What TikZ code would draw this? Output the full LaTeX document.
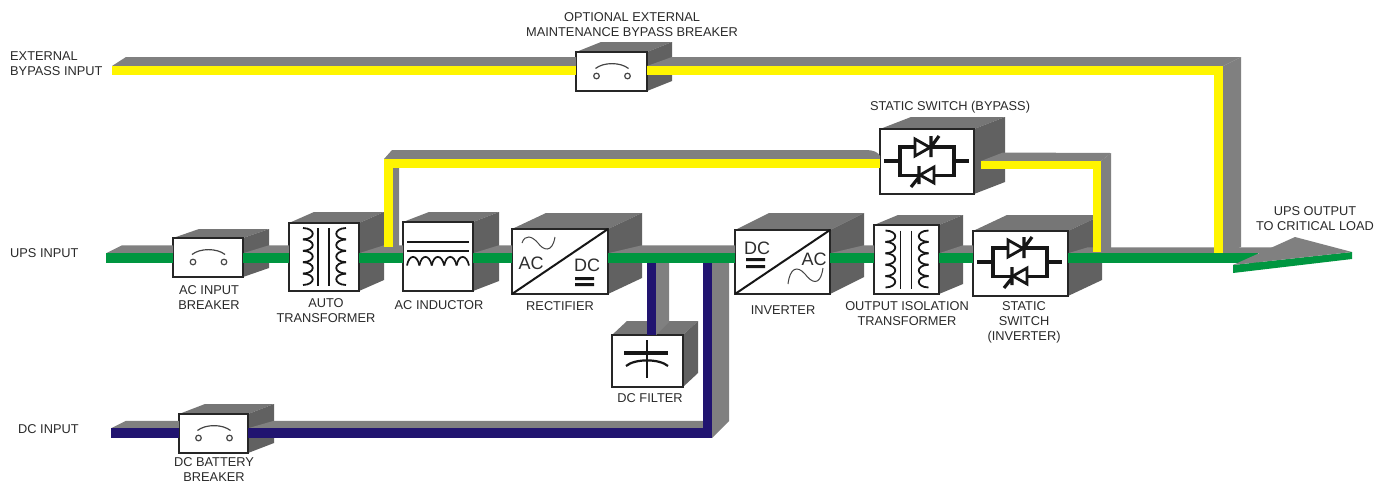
\documentclass[tikz,border=0pt]{standalone}
\usepackage{fontspec}
\setmainfont{Liberation Sans}
\usetikzlibrary{calc}
\definecolor{railgrey}{HTML}{808080}
\definecolor{topgrey}{HTML}{767676}
\definecolor{sidegrey}{HTML}{616161}
\definecolor{busgreen}{HTML}{009640}
\definecolor{busyellow}{HTML}{FFF500}
\definecolor{busnavy}{HTML}{211470}
\definecolor{labeltext}{HTML}{2A2A2A}
\definecolor{symbolink}{HTML}{161616}
\tikzset{
  lbl/.style={font=\fontsize{12.8}{15}\selectfont,align=center,inner sep=0pt,text=labeltext},
  lblleft/.style={lbl,align=left,anchor=west},
  frontface/.style={draw=black!85,line width=1.2pt,fill=white,inner sep=0pt,outer sep=0pt},
  greenwire/.style={draw=busgreen,line width=9.5pt},
  yellowwire/.style={draw=busyellow,line width=9pt,miter limit=10},
  navywire/.style={draw=busnavy,line width=9.5pt,miter limit=10},
  ink/.style={draw=symbolink,line width=1.5pt},
  inkbold/.style={draw=symbolink,line width=3.2pt},
  inkthin/.style={draw=symbolink!80,line width=1pt},
  bigtext/.style={font=\fontsize{18}{18}\selectfont,inner sep=0pt,text=symbolink!90},
}
% name, x1, y1, x2, y2, dx, dy
\newcommand\cube[7]{%
  \fill[topgrey] (#2,#3) -- ++(#6,-#7) -- (#4+#6,#3-#7) -- (#4,#3) -- cycle;
  \fill[sidegrey] (#4,#3) -- (#4+#6,#3-#7) -- (#4+#6,#5-#7) -- (#4,#5) -- cycle;
  \node[frontface,minimum width=#4pt-#2pt,minimum height=#5pt-#3pt] (#1) at ({(#2+#4)/2},{(#3+#5)/2}) {};
}
% from point, to point (both on the top edge of the coloured wire), slant dx, height
\newcommand\railtop[4]{%
  \fill[railgrey] (#1) -- ++(#3,-#4) -- ($(#2)+(0,-#4)$) -- (#2) -- cycle;
}
\newcommand\symbreaker[1]{\begin{scope}[shift={(#1.center)}]
  \draw[inkthin,line width=1.2pt] (-16,-3) .. controls (-8,-9.5) and (9,-9.5) .. (17,-3);
  \draw[inkthin,line width=1.2pt] (-15,4.5) circle (2.8) (16,4.5) circle (2.8);
\end{scope}}
\newcommand\coil[3]{% x start, bulge, first y
  \foreach \k in {0,...,4} {
    \draw[ink,line width=1.8pt] (#1,#3+11.4*\k) .. controls (#1+#2,#3+11.4*\k+0.5) and (#1+#2,#3+11.4*\k+10.9) .. (#1,#3+11.4*\k+11.4);
  }}
\newcommand\symtransformer[1]{\begin{scope}[shift={(#1.center)}]
  \coil{-21}{13}{-29}
  \coil{22}{-13}{-29}
  \draw[ink,line width=1.8pt] (-6,-29) -- (-6,29) (5,-29) -- (5,29);
\end{scope}}
\newcommand\syminductor[1]{\begin{scope}[shift={(#1.center)}]
  \draw[ink,line width=1.7pt] (-31,-14.5) -- (31,-14.5) (-31,-5.5) -- (31,-5.5);
  \foreach \k in {0,...,4} {
    \draw[ink,line width=1.7pt] (-31+12.4*\k,9) .. controls (-29+12.4*\k,-2.5) and (-21+12.4*\k,-2.5) .. (-18.6+12.4*\k,9);
  }
\end{scope}}
\newcommand\symthyristors[1]{\begin{scope}[shift={(#1)}]
  \draw[inkbold,line join=miter] (-43,0) -- (-27,0) (27,0) -- (42,0) (-27,-14) rectangle (27,14.5);
  \filldraw[fill=white,inkbold,line width=2.8pt] (-12,-22) -- (3,-13.5) -- (-12,-5) -- cycle;
  \draw[inkbold] (4,-25) -- (4,-4) (4,-14) -- (12,-25);
  \filldraw[fill=white,inkbold,line width=2.8pt] (7,6) -- (-7,14) -- (7,22) -- cycle;
  \draw[inkbold] (-8,5) -- (-8,23) (-8,16) -- (-16,26);
\end{scope}}
\begin{document}
\begin{tikzpicture}[x=1pt,y=-1pt]
\useasboundingbox (0,0) rectangle (1387,483);
\fill[white] (0,0) rectangle (1387,483);

% named reference levels and free wire ends
\coordinate (bus) at (0,258);
\coordinate (bustop) at (0,253.25);
\coordinate (topbus) at (0,70.5);
\coordinate (topedge) at (0,66);
\coordinate (dcbus) at (0,433);
\coordinate (dcedge) at (0,428.25);
\coordinate (upsin) at (106,258);
\coordinate (extin) at (112,70.5);
\coordinate (dcin) at (111,433);
\coordinate (busend) at (1258,258);
\coordinate (railend) at (1275,258);

% boxes
\cube{brkac}{173}{238}{243}{277}{26}{9}
\cube{auto}{289}{223}{359}{291}{25}{11}
\cube{inductor}{403}{222}{473}{291}{26}{10}
\cube{rectifier}{512}{229}{608}{294}{34}{16}
\cube{inverter}{735}{230}{830}{294}{34}{17}
\cube{isolation}{874}{225}{939}{294}{24}{10}
\cube{swinv}{973}{231}{1068}{296}{34}{16}
\cube{swbyp}{880}{129}{974}{194}{31}{12}
\cube{filter}{612}{335}{683}{387}{15}{14}
\cube{brkdc}{179}{414}{248}{453}{26}{10}
\cube{brkbyp}{576}{52}{647}{91}{25}{10}

% grey rail tops: main bus
\railtop{upsin |- bustop}{brkac.west |- bustop}{16}{8}
\railtop{brkac.east |- bustop}{auto.west |- bustop}{26}{8}
\railtop{auto.east |- bustop}{inductor.west |- bustop}{25}{8}
\railtop{inductor.east |- bustop}{rectifier.west |- bustop}{26}{8}
\railtop{rectifier.east |- bustop}{inverter.west |- bustop}{34}{8}
\railtop{inverter.east |- bustop}{isolation.west |- bustop}{34}{8}
\railtop{isolation.east |- bustop}{swinv.west |- bustop}{24}{8}
\railtop{swinv.east |- bustop}{railend |- bustop}{20}{6}
% grey rail tops: top bus
\railtop{extin |- topedge}{brkbyp.west |- topedge}{14}{9}
\fill[railgrey] (brkbyp.east |- topedge) -- ++(25,-9) -- (1241,57) -- (1223,66) -- cycle;
\fill[railgrey] (1223,66) -- (1241,57) -- (1241,247) -- (1223,253) -- cycle;
% grey rail tops: dc bus
\railtop{dcin |- dcedge}{brkdc.west |- dcedge}{15}{7.5}
\fill[railgrey] (brkdc.east |- dcedge) -- ++(26,-7.5) -- (729,420.75) -- (712,428.25) -- cycle;
\fill[railgrey] (712,262) -- (729,262) -- (729,421) -- (712,438) -- cycle;
% grey branch to dc filter
\fill[railgrey] (656,262) -- (669,262) -- (669,322) -- (656,335) -- cycle;
% grey bypass rails
\fill[railgrey] (384,159) -- (392,150) -- (866,150) .. controls (873,150) and (878,152) .. (880,156) -- (880,159) -- cycle;
\fill[railgrey] (393,168) -- (399,161) -- (399,247) -- (393,247) -- cycle;
\fill[railgrey] (981,161) -- (1003,152.5) -- (1111,153) -- (1101,161) -- cycle;
\fill[railgrey] (1101,161) -- (1111,153) -- (1111,249) -- (1101,252) -- cycle;

% coloured wires
\draw[yellowwire] (extin) -- (brkbyp.west |- topbus);
\draw[yellowwire] (brkbyp.east |- topbus) -- (1218.5,70.5) -- (1218.5,253);
\coordinate (byptap) at (388.5,247);
\draw[yellowwire,line width=9.5pt] (byptap) -- (388.5,163.5) -- (swbyp.west |- 0,163.5);
\draw[yellowwire,line width=8.5pt] (981,165) -- (1097,165) -- (1097,252);
\draw[navywire] (dcin) -- (brkdc.west |- dcbus);
\draw[navywire] (brkdc.east |- dcbus) -- (707.5,433) -- (707.5,258);
\draw[navywire,line width=9pt] ($(filter.north)+(4,0)$) -- ($(filter.north |- bus)+(4,0)$);
\draw[greenwire] (upsin) -- (brkac.west |- bus);
\draw[greenwire] (brkac.east |- bus) -- (auto.west |- bus);
\draw[greenwire] (auto.east |- bus) -- (inductor.west |- bus);
\draw[greenwire] (inductor.east |- bus) -- (rectifier.west |- bus);
\draw[greenwire] (rectifier.east |- bus) -- (inverter.west |- bus);
\draw[greenwire] (inverter.east |- bus) -- (isolation.west |- bus);
\draw[greenwire] (isolation.east |- bus) -- (swinv.west |- bus);
\draw[greenwire] (swinv.east |- bus) -- (busend);

% output arrow
\fill[busgreen] (1233,265) -- (1352,252) -- (1352,259) -- (1233,273) -- cycle;
\fill[railgrey] (1233,265) -- (1295,237) -- (1352,252) -- cycle;

% symbols
\symbreaker{brkac}
\symbreaker{brkdc}
\symbreaker{brkbyp}
\symtransformer{auto}
\symtransformer{isolation}
\syminductor{inductor}
% rectifier
\draw[ink,line width=2pt] (rectifier.south west) -- (rectifier.north east);
\draw[inkthin] (522,243) .. controls (525,234) and (532,236) .. (538,243) .. controls (543,250) and (552,254) .. (555,237);
\node[bigtext] (rectac) at (531,263) {AC};
\node[bigtext] (rectdc) at (587,265) {DC};
\fill[symbolink] (575,277) rectangle (594,280) (575,283) rectangle (594,286);
% inverter
\draw[ink,line width=2pt] (inverter.south west) -- (inverter.north east);
\draw[inkthin] (788,284) .. controls (790,268) and (797,265) .. (805,274) .. controls (811,282) and (820,288) .. (823,268);
\node[bigtext] (invdc) at (757,248) {DC};
\node[bigtext] (invac) at (814,259) {AC};
\fill[symbolink] (746,258) rectangle (765,261) (746,265) rectangle (765,268);
% static switches
\symthyristors{927,161}
\symthyristors{1020,262}
% capacitor
\draw[inkbold,line width=2.8pt] (647,340) -- (647,378);
\draw[inkbold] (624,353) -- (668,353);
\draw[inkbold,line width=2.2pt] (626,366) .. controls (635,358.5) and (659,358.5) .. (668,366);

% labels
\node[lblleft] (lext) at (10,64) {EXTERNAL\\BYPASS INPUT};
\node[lblleft] (lups) at (10,253) {UPS INPUT};
\node[lblleft] (ldc) at (18,429) {DC INPUT};
\node[lbl] (lopt) at (632,25) {OPTIONAL EXTERNAL\\MAINTENANCE BYPASS BREAKER};
\node[lbl] (lsb) at (950,107) {STATIC SWITCH (BYPASS)};
\node[lbl] (lacb) at (209,297.5) {AC INPUT\\BREAKER};
\node[lbl] (lauto) at (326,310.5) {AUTO\\TRANSFORMER};
\node[lbl] (lind) at (439,305) {AC INDUCTOR};
\node[lbl] (lrec) at (560,306) {RECTIFIER};
\node[lbl] (lfil) at (650,398) {DC FILTER};
\node[lbl] (linv) at (783,310) {INVERTER};
\node[lbl] (liso) at (907,314) {OUTPUT ISOLATION\\TRANSFORMER};
\node[lbl] (lsi) at (1024,322) {STATIC\\SWITCH\\(INVERTER)};
\node[lbl] (lout) at (1315,218.5) {UPS OUTPUT\\TO CRITICAL LOAD};
\node[lbl] (ldcb) at (214,470) {DC BATTERY\\BREAKER};
\end{tikzpicture}
\end{document}
